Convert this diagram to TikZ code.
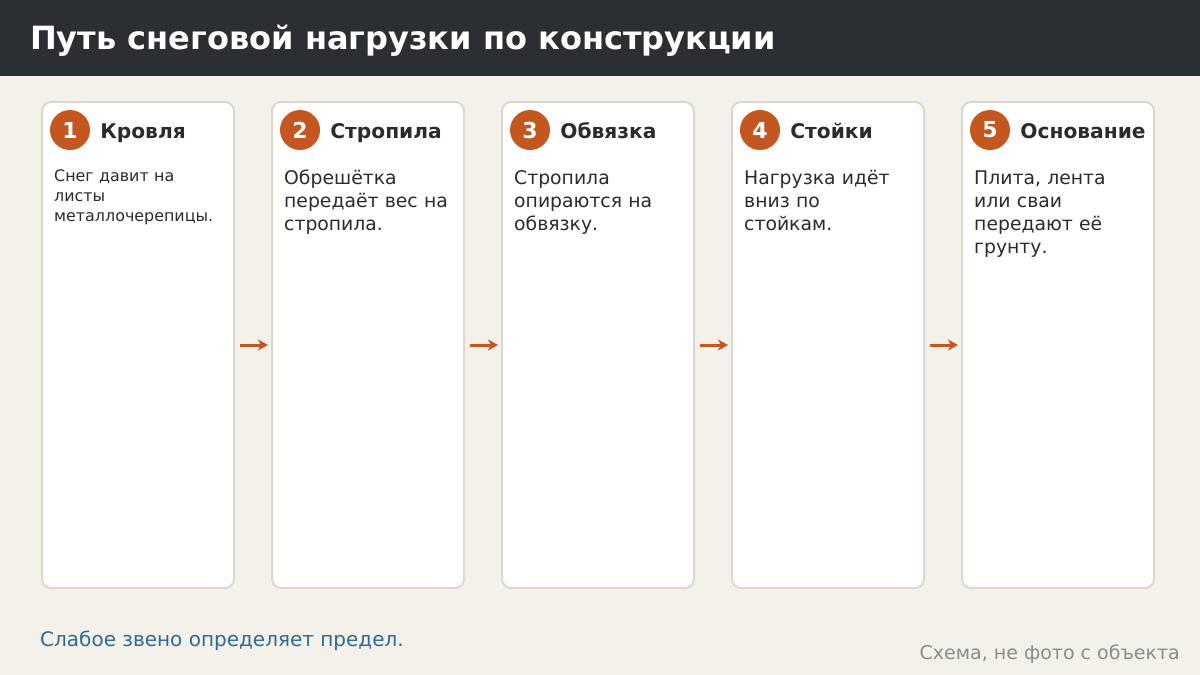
\documentclass[tikz,border=0pt]{standalone}
\usepackage{fontspec}
\setmainfont{DejaVu Sans}
\usetikzlibrary{positioning, calc, arrows.meta}
\definecolor{bgcol}{HTML}{F4F1EB}
\definecolor{headcol}{HTML}{2B2E33}
\definecolor{cardline}{HTML}{DDD8CF}
\definecolor{accent}{HTML}{C4561F}
\definecolor{inkcol}{HTML}{2B2B2B}
\definecolor{notecol}{HTML}{2E6A96}
\definecolor{greycol}{HTML}{8C8C8C}
\tikzstyle{card} = [rectangle, rounded corners=9pt, minimum width=192pt, minimum height=486pt, draw=cardline, line width=2pt, fill=white, inner sep=0pt]
\tikzstyle{badge} = [circle, minimum size=40pt, inner sep=0pt, fill=accent, text=white, font=\fontsize{22}{26}\selectfont\bfseries]
\tikzstyle{head} = [anchor=base west, inner sep=0pt, text=inkcol, font=\fontsize{20.2}{24}\selectfont\bfseries]
\tikzstyle{body} = [anchor=base west, inner sep=0pt, text width=176pt, align=left, text=inkcol, font=\fontsize{18.8}{23}\selectfont]
\tikzstyle{arrow} = [draw=accent, line width=3pt, -{Stealth[length=10pt, width=11pt, inset=3pt]}, shorten <=5pt, shorten >=3pt]

\begin{document}
\begin{tikzpicture}[x=1pt, y=-1pt]
    \fill[bgcol] (0,0) rectangle (1200,675);
    \useasboundingbox (0,0) rectangle (1200,675);
    \fill[headcol] (0,0) rectangle (1200,76);
    \node (title) [anchor=base west, inner sep=0pt, text=white, font=\fontsize{32}{36}\selectfont\bfseries] at (30,49) {Путь снеговой нагрузки по конструкции};

    \node (card1) [card] at (138,345) {};
    \node (card2) [card, right=36pt of card1] {};
    \node (card3) [card, right=36pt of card2] {};
    \node (card4) [card, right=36pt of card3] {};
    \node (card5) [card, right=36pt of card4] {};

    \node (num1) [badge] at ($(card1.north west)+(29,29)$) {1};
    \node (num2) [badge] at ($(card2.north west)+(29,29)$) {2};
    \node (num3) [badge] at ($(card3.north west)+(29,29)$) {3};
    \node (num4) [badge] at ($(card4.north west)+(29,29)$) {4};
    \node (num5) [badge] at ($(card5.north west)+(29,29)$) {5};

    \node (head1) [head] at ($(num1.east)+(10,8)$) {Кровля};
    \node (head2) [head] at ($(num2.east)+(10,8)$) {Стропила};
    \node (head3) [head] at ($(num3.east)+(10,8)$) {Обвязка};
    \node (head4) [head] at ($(num4.east)+(10,8)$) {Стойки};
    \node (head5) [head] at ($(num5.east)+(10,8)$) {Основание};

    \node (text1) [body, font=\fontsize{15.9}{20}\selectfont] at ($(card1.north west)+(13,80)$) {Снег давит на\\ листы\\ металлочерепицы.};
    \node (text2) [body] at ($(card2.north west)+(13,83)$) {Обрешётка\\ передаёт вес на\\ стропила.};
    \node (text3) [body] at ($(card3.north west)+(13,83)$) {Стропила\\ опираются на\\ обвязку.};
    \node (text4) [body] at ($(card4.north west)+(13,83)$) {Нагрузка идёт\\ вниз по\\ стойкам.};
    \node (text5) [body] at ($(card5.north west)+(13,83)$) {Плита, лента\\ или сваи\\ передают её\\ грунту.};

    \draw [arrow] (card1) -- (card2);
    \draw [arrow] (card2) -- (card3);
    \draw [arrow] (card3) -- (card4);
    \draw [arrow] (card4) -- (card5);

    \node (note) [anchor=base west, inner sep=0pt, text=notecol, font=\fontsize{20}{24}\selectfont] at (40,646) {Слабое звено определяет предел.};
    \node (credit) [anchor=base east, inner sep=0pt, text=greycol, font=\fontsize{19}{23}\selectfont] at (1180,659) {Схема, не фото с объекта};
\end{tikzpicture}
\end{document}
